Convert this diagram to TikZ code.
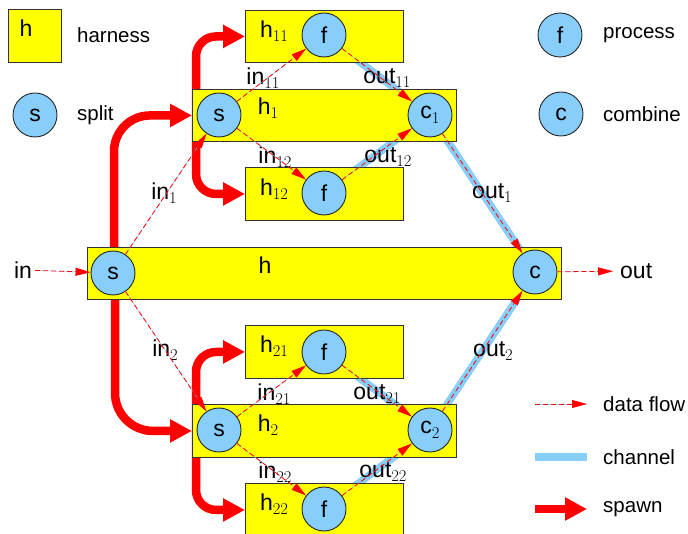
\documentclass[tikz,border=0pt]{standalone}
\usepackage{fontspec}
\setmainfont{Liberation Sans}
\newfontfamily\subfont{Latin Modern Roman}
\newcommand\sbs[1]{\raisebox{-4.5pt}{\fontsize{16.5}{17}\subfont #1}}
\usetikzlibrary{arrows.meta}
\pgfdeclarelayer{back}
\pgfsetlayers{back,main}
\definecolor{chan}{RGB}{135,206,250}
\definecolor{hy}{RGB}{255,255,0}
\begin{document}
\begin{tikzpicture}[x=1pt,y=-1pt, font=\fontsize{23}{27}\selectfont,
 harness/.style={draw=black!80, line width=0.9pt, fill=hy, inner sep=0, anchor=north west},
 proc/.style={circle, draw=black!85, line width=0.9pt, fill=chan, minimum size=44pt, inner sep=0},
 flow/.style={red, line width=0.8pt, dash pattern=on 5pt off 3pt, -{Triangle[length=15pt,width=8pt]}, preaction={draw=chan, solid, -}},
 chanl/.style={draw=chan, line width=7.5pt},
 spawn/.style={red, line width=8.5pt, -{Triangle[length=22pt,width=22pt]}},
 lbl/.style={inner sep=0},
 leg/.style={inner sep=0, anchor=west, font=\fontsize{20.5}{24}\selectfont},
]
\clip (0,0) rectangle (688,534);

% boxes
\node[harness, minimum width=53pt, minimum height=53pt] (hL) at (8,9) {};
\node[harness, minimum width=158pt, minimum height=52pt] (h11) at (245,10) {};
\node[harness, minimum width=264pt, minimum height=52pt] (h1) at (192,89) {};
\node[harness, minimum width=158pt, minimum height=53pt] (h12) at (245,167) {};
\node[harness, minimum width=474pt, minimum height=52pt] (h) at (87,247) {};
\node[harness, minimum width=158pt, minimum height=53pt] (h21) at (245,325) {};
\node[harness, minimum width=264pt, minimum height=53pt] (h2) at (192,404) {};
\node[harness, minimum width=158pt, minimum height=53pt] (h22) at (245,483) {};

% circles
\node[proc] (sL) at (35,115) {s};
\node[proc] (fL) at (560,35) {f};
\node[proc] (cL) at (561,114) {c};
\node[proc] (f11) at (324,35) {f};
\node[proc] (s1) at (219,115) {s};
\node[proc] (c1) at (430,115) {c\sbs{1}};
\node[proc] (f12) at (324,193) {f};
\node[proc] (s) at (113,273) {s};
\node[proc] (c) at (535,272) {c};
\node[proc] (f21) at (324,352) {f};
\node[proc] (s2) at (219,430) {s};
\node[proc] (c2) at (430,430) {c\sbs{2}};
\node[proc] (f22) at (324,509) {f};

% channels and spawns (behind)
\begin{pgfonlayer}{back}
\fill[white] (0,0) rectangle (688,534);
\draw[chanl] (f11.center) -- (c1.center);
\draw[chanl] (f12.center) -- (c1.center);
\draw[chanl] (c1.center) -- (c.center);
\draw[chanl] (c2.center) -- (c.center);
\draw[chanl] (f21.center) -- (c2.center);
\draw[chanl] (f22.center) -- (c2.center);
\draw[spawn, rounded corners=36pt] ([xshift=1pt]s.center) |- (h1.west);
\draw[spawn, rounded corners=38pt] ([xshift=2pt]s.center) |- (h2.west);
\draw[spawn, rounded corners=20pt] ([xshift=4pt]h1.west) |- (h11.west);
\draw[spawn, rounded corners=20pt] ([xshift=4pt]h1.west) |- (h12.west);
\draw[spawn, rounded corners=20pt] ([xshift=4pt]h2.west) |- (h21.west);
\draw[spawn, rounded corners=20pt] ([xshift=4pt]h2.west) |- (h22.west);
\end{pgfonlayer}

% harness labels
\node[lbl] (lhL) at (26,28) {h};
\node[lbl] (lh11) at (274,31) {h\sbs{11}};
\node[lbl] (lh1) at (268,108) {h\sbs{1}};
\node[lbl] (lh12) at (274,189) {h\sbs{12}};
\node[lbl] (lh) at (265,265) {h};
\node[lbl] (lh21) at (274,346) {h\sbs{21}};
\node[lbl] (lh2) at (268,425) {h\sbs{2}};
\node[lbl] (lh22) at (274,504) {h\sbs{22}};

% flow labels
\node[lbl] (lin11) at (263,78) {in\sbs{11}};
\node[lbl] (lout11) at (387,78) {out\sbs{11}};
\node[lbl] (lin12) at (275,157) {in\sbs{12}};
\node[lbl] (lout12) at (388,157) {out\sbs{12}};
\node[lbl] (lin1) at (164,193) {in\sbs{1}};
\node[lbl] (lout1) at (492,193) {out\sbs{1}};
\node[lbl] (lin2) at (165,350) {in\sbs{2}};
\node[lbl] (lout2) at (493,351) {out\sbs{2}};
\node[lbl] (lin21) at (274,394) {in\sbs{21}};
\node[lbl] (lout21) at (377,394) {out\sbs{21}};
\node[lbl] (lin22) at (275,472) {in\sbs{22}};
\node[lbl] (lout22) at (383,472) {out\sbs{22}};

\node[lbl] (inl) at (23,270) {in};
\node[lbl, anchor=west] (outl) at (620,271) {out};

% legend texts
\node[leg] (tharn) at (77,35) {harness};
\node[leg] (tsplit) at (77,115) {split};
\node[leg] (tproc) at (603,35) {process};
\node[leg] (tcomb) at (603,114) {combine};
\node[leg] (tflow) at (603,404) {data flow};
\node[leg] (tchan) at (603,457) {channel};
\node[leg] (tspawn) at (603,509) {spawn};

\coordinate (lfa) at (535,404);
\coordinate (lfb) at (587,404);
\coordinate (lca) at (535,457);
\coordinate (lcb) at (587,457);
\coordinate (lsa) at (535,509);
\coordinate (lsb) at (587,509);

% data flows
\draw[flow, shorten <=3pt] (inl) -- (s);
\draw[flow] (s) -- (s1);
\draw[flow] (s) -- (s2);
\draw[flow] (s1) -- (f11);
\draw[flow] (s1) -- (f12);
\draw[flow] (f11) -- (c1);
\draw[flow] (f12) -- (c1);
\draw[flow] (c1) -- (c);
\draw[flow] (s2) -- (f21);
\draw[flow] (s2) -- (f22);
\draw[flow] (f21) -- (c2);
\draw[flow] (f22) -- (c2);
\draw[flow] (c2) -- (c);
\draw[flow, shorten >=7pt] (c) -- (outl);

% legend lines
\draw[flow] (lfa) -- (lfb);
\draw[chanl] (lca) -- (lcb);
\draw[spawn] (lsa) -- (lsb);
\end{tikzpicture}
\end{document}
